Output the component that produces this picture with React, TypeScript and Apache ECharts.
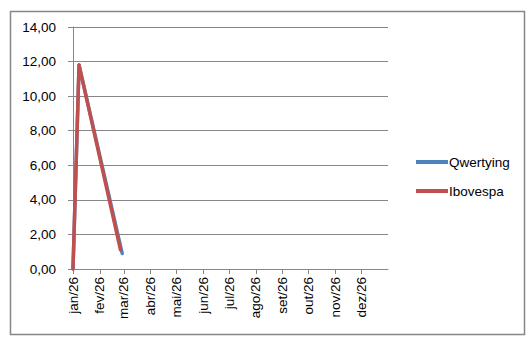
import React, { useEffect, useRef } from "react";
import * as echarts from "echarts";

const monthLabels = ["jan/26", "fev/26", "mar/26", "abr/26", "mai/26", "jun/26", "jul/26", "ago/26", "set/26", "out/26", "nov/26", "dez/26"];
const monthStarts = ["2026-01-01", "2026-02-01", "2026-03-01", "2026-04-01", "2026-05-01", "2026-06-01", "2026-07-01", "2026-08-01", "2026-09-01", "2026-10-01", "2026-11-01", "2026-12-01"];

const qwertyingDates = ["2026-01-01", "2026-01-08", "2026-02-27"];
const qwertyingValues = [0, 11.8, 0.9];

const ibovespaDates = ["2026-01-01", "2026-01-08", "2026-02-25"];
const ibovespaValues = [0, 11.8, 1.1];

const xMin = "2026-01-01";
const xMax = "2027-01-01";

const toTs = (s: string) => {
  const [y, m, d] = s.split("-").map(Number);
  return Date.UTC(y, m - 1, d);
};

const FONT = "Liberation Sans";

export default function App() {
  const ref = useRef<HTMLDivElement>(null);
  useEffect(() => {
    if (!ref.current) return;
    const chart = echarts.init(ref.current, null, { renderer: "svg" });
    const tickVals = monthStarts.map(toTs);
    const labelMap: Record<number, string> = {};
    tickVals.forEach((t, i) => (labelMap[t] = monthLabels[i]));
    chart.setOption({
      animation: false,
      backgroundColor: "#ffffff",
      grid: { left: 73, top: 27, right: 143, bottom: 72, containLabel: false },
      graphic: [
        {
          type: "rect",
          shape: { x: 10.5, y: 11.5, width: 514, height: 323 },
          style: { fill: "none", stroke: "#868686", lineWidth: 1.5 },
          silent: true,
        },
      ],
      legend: {
        orient: "vertical",
        left: 411,
        top: 149,
        itemWidth: 32,
        itemHeight: 4,
        itemGap: 13,
        icon: "rect",
        textStyle: { fontFamily: FONT, fontSize: 13.5, color: "#000", lineHeight: 16, padding: [0, 0, 0, -4] },
        data: ["Qwertying", "Ibovespa"],
      },
      xAxis: {
        type: "value",
        min: toTs(xMin),
        max: toTs(xMax),
        axisLine: { show: true, lineStyle: { color: "#868686", width: 1 } },
        axisTick: { show: true, length: 5, inside: false, customValues: tickVals, lineStyle: { color: "#868686" } },
        axisLabel: {
          customValues: tickVals,
          interval: 0,
          hideOverlap: false,
          rotate: 90,
          margin: 8,
          fontFamily: FONT,
          fontSize: 13.5,
          color: "#000",
          formatter: (v: number) => labelMap[v] ?? "",
        },
        splitLine: { show: false },
      },
      yAxis: {
        type: "value",
        min: 0,
        max: 14,
        interval: 2,
        axisLine: { show: true, lineStyle: { color: "#868686", width: 1 } },
        axisTick: { show: true, length: 5, inside: false, lineStyle: { color: "#868686" } },
        axisLabel: {
          margin: 17,
          fontFamily: FONT,
          fontSize: 13.5,
          color: "#000",
          formatter: (v: number) => v.toFixed(2).replace(".", ","),
        },
        splitLine: { show: true, lineStyle: { color: "#868686", width: 1 } },
      },
      series: [
        {
          name: "Qwertying",
          type: "line",
          showSymbol: false,
          color: "#4F81BD",
          lineStyle: { width: 3.5, color: "#4F81BD", cap: "round", join: "round" },
          data: qwertyingDates.map((d, i) => [toTs(d), qwertyingValues[i]]),
        },
        {
          name: "Ibovespa",
          type: "line",
          showSymbol: false,
          color: "#C0504D",
          lineStyle: { width: 3.5, color: "#C0504D", cap: "round", join: "round" },
          data: ibovespaDates.map((d, i) => [toTs(d), ibovespaValues[i]]),
        },
      ],
    });
    return () => chart.dispose();
  }, []);
  return <div ref={ref} style={{ position: "fixed", left: 0, top: 0, width: 531, height: 341 }} />;
}
